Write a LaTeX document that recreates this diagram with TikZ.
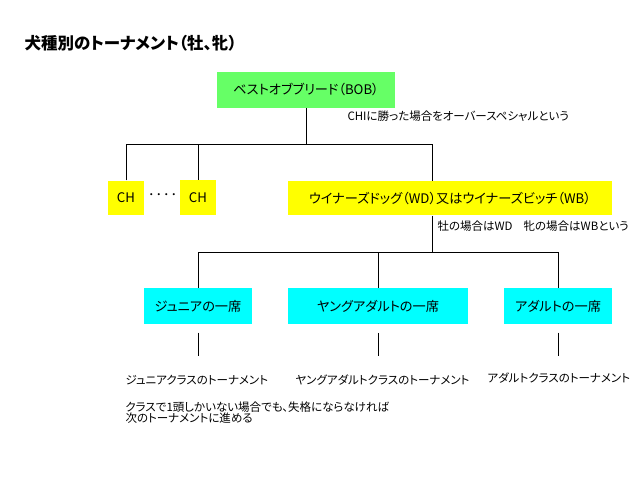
\documentclass[tikz,border=0pt]{standalone}
\usepackage{fontspec}
\setmainfont{Noto Sans CJK JP}[RawFeature=+palt]
\newfontfamily\plainjp{Noto Sans CJK JP}
\usetikzlibrary{positioning,calc}
\definecolor{bobgreen}{HTML}{66FF66}
\definecolor{chyellow}{HTML}{FFFF00}
\definecolor{classcyan}{HTML}{00FFFF}

\begin{document}
\begin{tikzpicture}[x=1pt,y=-1pt,line width=1pt,
  box/.style={inner sep=0pt,font=\fontsize{13.2}{13.2}\selectfont},
  bobbox/.style={box,fill=bobgreen,minimum width=178pt,minimum height=35.5pt},
  chbox/.style={box,fill=chyellow,minimum width=35.7pt,minimum height=34.5pt},
  wdbox/.style={box,fill=chyellow,minimum width=324pt,minimum height=34pt},
  classbox/.style={box,fill=classcyan,minimum height=36pt},
  note/.style={anchor=west,inner sep=0pt,font=\fontsize{11.5}{11.3}\selectfont}]
\useasboundingbox (0,0) rectangle (640,480);
\node[anchor=west,inner sep=0pt,font=\fontsize{16.5}{16.5}\selectfont\bfseries] (title) at (24,43.5) {犬種別のトーナメント（牡、牝）};
\node[bobbox] (bob) at (306,89.8) {ベストオブブリード（BOB）};
\node[note] (bobnote) at (347,116) {CHIに勝った場合をオーバースペシャルという};
\node[chbox] (ch1) at (126,198) {CH};
\node[chbox] (ch2) at (198,197.5) {CH};
\node[inner sep=0pt,font=\plainjp\bfseries\fontsize{7.5}{7.5}\selectfont] (dots) at (162.5,196) {・・・・};
\node[wdbox] (wd) at (450,198) {ウイナーズドッグ（WD）又はウイナーズビッチ（WB）};
\node[note] (wdnote) at (437,226) {牡の場合はWD\hspace{11pt}牝の場合はWBという};
\node[classbox,minimum width=108pt] (junior) at (198,306) {ジュニアの一席};
\node[classbox,minimum width=180pt] (young) at (378,306.3) {ヤングアダルトの一席};
\node[classbox,minimum width=108pt] (adult) at (558,306) {アダルトの一席};
\coordinate (bobfork) at (306,144.5);
\coordinate (wdin) at (432.5,181);
\coordinate (wdfork) at (432.5,252.3);
\draw (bob.south) -- (bobfork);
\draw (ch1.north) |- (bobfork) -| (wdin);
\draw (ch2.north) -- (ch2.north |- bobfork);
\draw (wdin |- wd.south) -- (wdfork);
\draw (junior.north) |- (wdfork) -| (adult.north);
\draw (young.north) -- (young.north |- wdfork);
\draw ([yshift=-8pt]junior.south) -- ([yshift=-31pt]junior.south);
\draw ([yshift=-8pt]young.south) -- ([yshift=-31pt]young.south);
\draw ([yshift=-8pt]adult.south) -- ([yshift=-31pt]adult.south);
\node[note] (jrtour) at (125,380.5) {ジュニアクラスのトーナメント};
\node[note] (yatour) at (295,380) {ヤングアダルトクラスのトーナメント};
\node[note] (adtour) at (487,378) {アダルトクラスのトーナメント};
\node[note,align=left] (jrnote) at (125,412.5) {クラスで1頭しかいない場合でも、失格にならなければ\\次のトーナメントに進める};
\end{tikzpicture}
\end{document}
